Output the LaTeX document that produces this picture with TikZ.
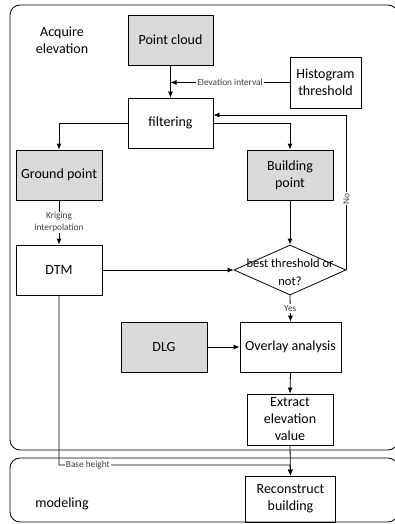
\documentclass[tikz,border=0pt]{standalone}
\usepackage{fontspec}
\setmainfont{Carlito}
\usetikzlibrary{arrows.meta,shapes.geometric,calc}
\definecolor{boxgray}{HTML}{D9D9D9}
\definecolor{lblgray}{HTML}{404040}
\begin{document}
\begin{tikzpicture}[x=1pt,y=-1pt,
  every node/.style={font=\fontsize{14}{17}\selectfont},
  box/.style={draw=black,line width=0.8pt,rectangle,align=center,inner sep=1pt},
  gbox/.style={box,fill=boxgray},
  arr/.style={draw=black,line width=0.8pt,-{Latex[length=6pt,width=5pt]}},
  ln/.style={draw=black,line width=0.8pt},
  lbl/.style={fill=white,inner sep=1pt,text=lblgray,align=center,font=\fontsize{9.3}{12}\selectfont},
  cont/.style={draw=black,line width=0.8pt,rounded corners=10pt},
  ttl/.style={align=center,font=\fontsize{14}{17}\selectfont}]
\useasboundingbox (0,0) rectangle (395,524);
% containers
\draw[cont] (10,5) rectangle (398,450);
\draw[cont] (10,458) rectangle (398,522);
\node[ttl] (acq) at (62,40) {Acquire\\elevation};
\node[ttl] (mod) at (62,504) {modeling};
% nodes
\node[gbox,minimum width=85pt,minimum height=50pt] (pc) at (170.5,40) {Point cloud};
\node[box,minimum width=71pt,minimum height=51pt] (hist) at (325.5,82.5) {Histogram\\threshold};
\node[box,minimum width=85pt,minimum height=50pt] (filt) at (170.5,123) {filtering};
\node[gbox,minimum width=86pt,minimum height=50pt] (gp) at (59,175) {Ground point};
\node[gbox,minimum width=86pt,minimum height=50pt] (bp) at (290,175) {Building\\point};
\node[box,minimum width=86pt,minimum height=50pt] (dtm) at (59,270) {DTM};
\node[draw=black,line width=0.8pt,shape=diamond,inner sep=0pt,minimum width=112pt,minimum height=50pt,
  label={[align=center,yshift=-2pt,font=\fontsize{12.5}{18}\selectfont]center:best threshold or\\not?}] (dia) at (290,270) {};
\node[gbox,minimum width=86pt,minimum height=50pt] (dlg) at (164,347) {DLG};
\node[box,minimum width=101pt,minimum height=50pt] (ov) at (290.5,347) {Overlay analysis};
\node[box,minimum width=86pt,minimum height=51pt] (ex) at (290,419.5) {Extract\\elevation\\value};
\node[box,minimum width=90pt,minimum height=46pt] (rec) at (290.5,499) {Reconstruct\\building};
\coordinate (bh) at (290,465);
% connectors
\draw[arr] (pc.south) -- (filt.north);
\draw[arr] (hist.west) -- node[lbl]{Elevation interval} (hist.west -| filt.north);
\draw[arr] (filt.west) -| (gp.north);
\draw[arr] (filt.east) -| (bp.north);
\draw[arr] (gp.south) -- node[lbl]{Kriging\\interpolation} (dtm.north);
\draw[arr] (bp.south) -- (dia.north);
\draw[arr] (dtm.east) -- (dia.west);
\draw[arr] (dia.east) |- node[lbl,pos=0.23,rotate=90]{No} ([yshift=8pt]filt.east);
\draw[arr] (dia.south) -- node[lbl]{Yes} (ov.north);
\draw[arr] (dlg.east) -- (ov.west);
\draw[arr] (ov.south) -- (ex.north);
\draw[arr] (ex.south) -- (rec.north);
\draw[arr] (dtm.south) |- node[lbl,pos=0.5625]{Base height} (bh) -- (rec.north);
\end{tikzpicture}
\end{document}
